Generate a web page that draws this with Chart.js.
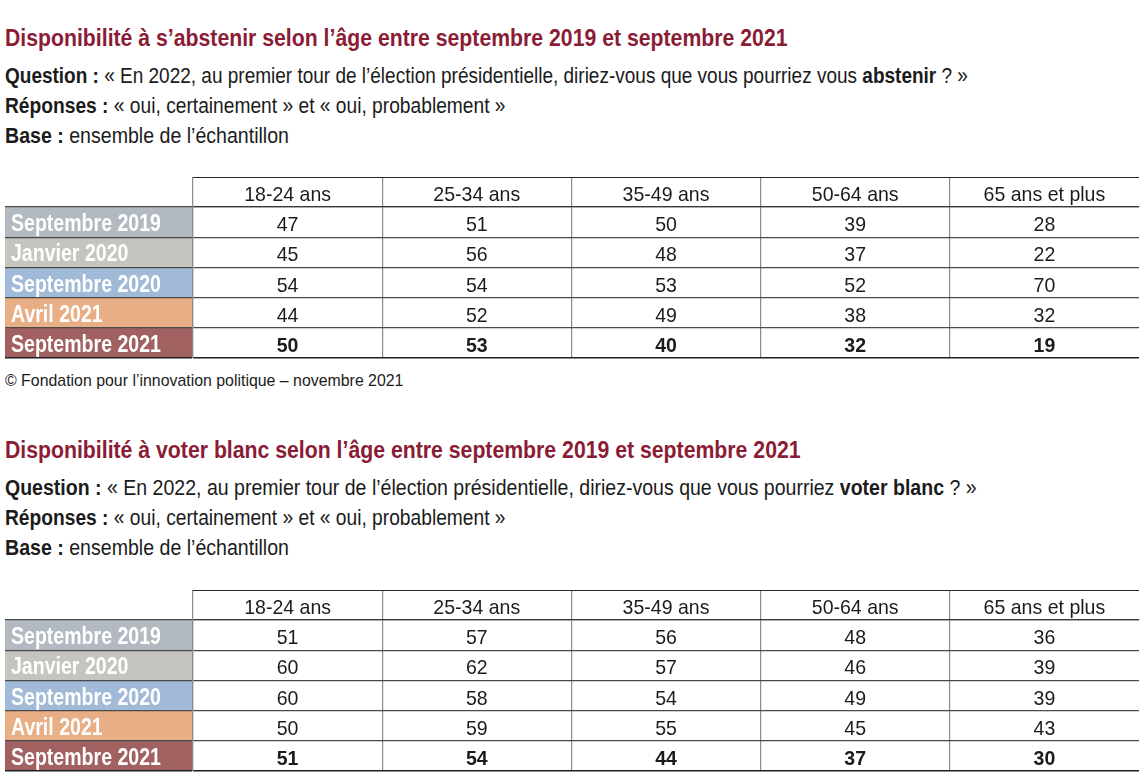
<!DOCTYPE html>
<html lang="fr">
<head>
<meta charset="utf-8">
<script src="https://cdn.jsdelivr.net/npm/chart.js@4.4.1/dist/chart.umd.min.js"></script>
<style>
  html, body { margin: 0; padding: 0; background: #fff; }
  body { width: 1145px; height: 775px; position: relative; overflow: hidden;
         font-family: 'Liberation Sans', Arial, sans-serif; color: #1b1b1b; }
  .t { position: absolute; left: 5px; white-space: nowrap; transform-origin: 0 0; line-height: normal; }
  .title { font-size: 23px; font-weight: bold; color: #8a1c36; }
  .line { font-size: 21.5px; }
  .note { font-size: 17px; }
  canvas { position: absolute; left: 0; }
</style>
</head>
<body>
<div class="t title" data-w="783" style="top:25px">Disponibilité à s’abstenir selon l’âge entre septembre 2019 et septembre 2021</div>
<div class="t line" data-w="963" style="top:64px"><b>Question :</b> « En 2022, au premier tour de l’élection présidentielle, diriez-vous que vous pourriez vous <b>abstenir</b> ? »</div>
<div class="t line" data-w="501" style="top:94px"><b>Réponses :</b> « oui, certainement » et « oui, probablement »</div>
<div class="t line" data-w="284" style="top:124px"><b>Base :</b> ensemble de l’échantillon</div>
<canvas id="t1" width="1145" height="184" style="top:176px"></canvas>
<div class="t note" data-w="398" style="top:371px">© Fondation pour l’innovation politique – novembre 2021</div>

<div class="t title" data-w="796" style="top:437px">Disponibilité à voter blanc selon l’âge entre septembre 2019 et septembre 2021</div>
<div class="t line" data-w="972" style="top:476px"><b>Question :</b> « En 2022, au premier tour de l’élection présidentielle, diriez-vous que vous pourriez <b>voter blanc</b> ? »</div>
<div class="t line" data-w="501" style="top:506px"><b>Réponses :</b> « oui, certainement » et « oui, probablement »</div>
<div class="t line" data-w="284" style="top:536px"><b>Base :</b> ensemble de l’échantillon</div>
<canvas id="t2" width="1145" height="184" style="top:589px"></canvas>

<script>
// colonnes et lignes
const ages = ['18-24 ans', '25-34 ans', '35-49 ans', '50-64 ans', '65 ans et plus'];
const waves = ['Septembre 2019', 'Janvier 2020', 'Septembre 2020', 'Avril 2021', 'Septembre 2021'];
const waveColors = ['#b3b9c1', '#c4c5be', '#a1bad7', '#e8ae85', '#a26161'];

// s'abstenir (%)
const abstSep2019 = [47, 51, 50, 39, 28];
const abstJan2020 = [45, 56, 48, 37, 22];
const abstSep2020 = [54, 54, 53, 52, 70];
const abstAvr2021 = [44, 52, 49, 38, 32];
const abstSep2021 = [50, 53, 40, 32, 19];

// voter blanc (%)
const blancSep2019 = [51, 57, 56, 48, 36];
const blancJan2020 = [60, 62, 57, 46, 39];
const blancSep2020 = [60, 58, 54, 49, 39];
const blancAvr2021 = [50, 59, 55, 45, 43];
const blancSep2021 = [51, 54, 44, 37, 30];

// police étroite simulée : Liberation Sans compressée horizontalement
document.querySelectorAll('.t').forEach(el => {
  const s = Number(el.dataset.w) / el.offsetWidth;
  el.style.transform = 'scaleX(' + s.toFixed(4) + ')';
});

const FONT = "'Liberation Sans', Arial, sans-serif";
const CELL_SX = 0.93;
const LABEL_SX = 0.85;

function narrowText(c, txt, x, y, sx, align) {
  c.save();
  c.translate(x, y);
  c.scale(sx, 1);
  c.textAlign = align;
  c.fillText(txt, 0, 0);
  c.restore();
}

// fonds colorés + libellés des lignes, en-tête
const tableDeco = {
  id: 'tableDeco',
  beforeDraw(chart) {
    const y = chart.scales.y, c = chart.ctx;
    c.save();
    waves.forEach((w, i) => {
      const top = y.getPixelForValue(i - 0.5), bot = y.getPixelForValue(i + 0.5);
      c.fillStyle = waveColors[i];
      c.fillRect(y.left, top, y.right - y.left, bot - top);
    });
    c.restore();
  },
  afterDraw(chart) {
    const y = chart.scales.y, x = chart.scales.x, c = chart.ctx;
    c.save();
    c.textBaseline = 'alphabetic';
    c.fillStyle = '#fff';
    c.font = 'bold 23px ' + FONT;
    waves.forEach((w, i) => narrowText(c, w, y.left + 6, y.getPixelForValue(i) + 9, LABEL_SX, 'left'));
    c.fillStyle = '#1b1b1b';
    c.font = '21px ' + FONT;
    ages.forEach((a, i) => narrowText(c, a, x.getPixelForValue(i), x.bottom - 6, CELL_SX, 'center'));
    // bord supérieur de l'en-tête
    c.strokeStyle = '#2a2a2a';
    c.lineWidth = 1.2;
    c.beginPath();
    c.moveTo(x.left, x.top + 0.5);
    c.lineTo(x.right, x.top + 0.5);
    c.stroke();
    c.restore();
  }
};

// valeurs dans les cellules
const cellText = {
  id: 'cellText',
  afterDatasetsDraw(chart) {
    const c = chart.ctx;
    c.save();
    c.textBaseline = 'alphabetic';
    c.fillStyle = '#1b1b1b';
    chart.data.datasets.forEach((ds, di) => {
      c.font = (di === waves.length - 1 ? 'bold ' : '') + '21px ' + FONT;
      chart.getDatasetMeta(di).data.forEach((pt, i) => {
        narrowText(c, String(ds.data[i].v), pt.x, pt.y + 9, CELL_SX, 'center');
      });
    });
    c.restore();
  }
};

function makeTable(id, rows) {
  new Chart(document.getElementById(id), {
    type: 'scatter',
    data: {
      datasets: rows.map((vals, r) => ({
        label: waves[r],
        data: vals.map((v, i) => ({ x: ages[i], y: waves[r], v: v })),
        pointRadius: 0
      }))
    },
    options: {
      responsive: false,
      animation: false,
      events: [],
      layout: { padding: { left: 5, right: 6, top: 1, bottom: 2 } },
      plugins: { legend: { display: false }, tooltip: { enabled: false } },
      scales: {
        x: {
          type: 'category',
          labels: ages,
          position: 'top',
          offset: true,
          grid: {
            offset: true,
            tickLength: 30,
            color: (c) => c.index === undefined ? 'rgba(0,0,0,0)' : '#8a8a8a',
            lineWidth: 1.2
          },
          border: { color: '#3a3a3a', width: 1.2 },
          ticks: { display: false },
          afterFit: (s) => { s.height = 30; }
        },
        y: {
          type: 'category',
          labels: waves,
          offset: true,
          grid: {
            offset: true,
            tickLength: 188,
            color: (c) => c.index === undefined ? '#1e1e1e' : '#4a4a4a',
            lineWidth: (c) => c.index === undefined ? 1.6 : 1.2
          },
          border: { color: '#8a8a8a', width: 1.2 },
          ticks: { display: false },
          afterFit: (s) => { s.width = 188; }
        }
      }
    },
    plugins: [tableDeco, cellText]
  });
}

makeTable('t1', [abstSep2019, abstJan2020, abstSep2020, abstAvr2021, abstSep2021]);
makeTable('t2', [blancSep2019, blancJan2020, blancSep2020, blancAvr2021, blancSep2021]);
</script>
</body>
</html>
